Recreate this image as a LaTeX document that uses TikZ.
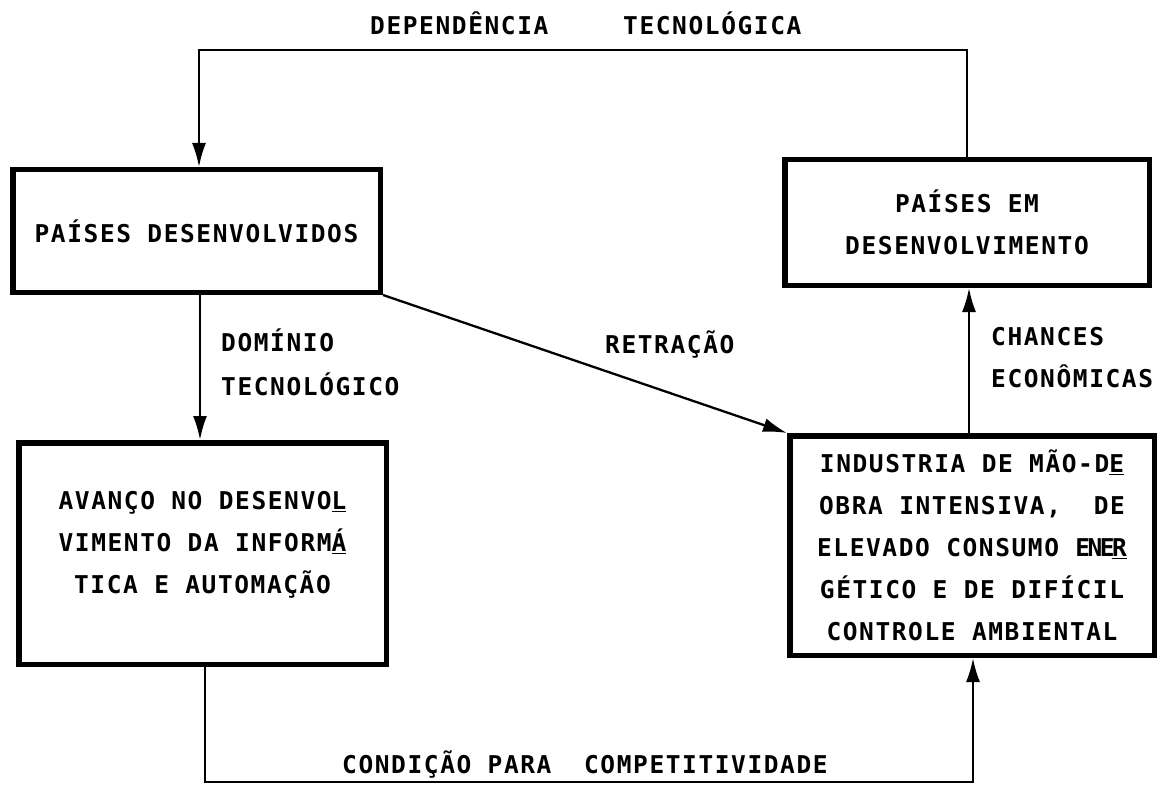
\documentclass[tikz,border=0pt]{standalone}
\usepackage{fontspec}
\newfontfamily\tw[LetterSpace=6.5]{DejaVu Sans Mono Bold}
\usetikzlibrary{arrows.meta}
\begin{document}
\begin{tikzpicture}[x=1pt,y=-1pt,
  txt/.style={font=\tw\fontsize{24.5}{42}\selectfont},
  box/.style={draw, line width=5.5pt, inner sep=0pt, align=center, txt},
  conn/.style={line width=2.3pt},
  arr/.style={conn, -{Latex[length=24pt,width=14pt]}},
  lbl/.style={txt, inner sep=0pt, anchor=base west}]
\useasboundingbox (0,0) rectangle (1161,786);
\fill[white] (0,0) rectangle (1161,786);

\node[box, minimum width=367.5pt, minimum height=122.5pt] (pd) at (196.5,231) {PAÍSES DESENVOLVIDOS};
\node[box, minimum width=364.5pt, minimum height=125.5pt] (ped) at (967,222.5) {PAÍSES EM\\DESENVOLVIMENTO};
\node[box, minimum width=364.5pt, minimum height=219.5pt] (ind) at (972,545.5)
  {INDUSTRIA DE MÃO-D\underline{E}\\OBRA INTENSIVA,\ \ DE\\ELEVADO CONSUMO E\kern-2.5pt N\kern-2.5pt E\kern-2.5pt \underline{R}\\GÉTICO E DE DIFÍCIL\\CONTROLE AMBIENTAL};
\node[box, minimum width=367.5pt, minimum height=221.5pt] (av) at (202.5,553.5)
  {AVANÇO NO DESENVO\underline{L}\\VIMENTO DA INFORM\underline{Á}\\TICA E AUTOMAÇÃO\\[-20pt]{}};

\coordinate (tl) at (199,50);
\coordinate (tr) at (967,50);
\coordinate (lx) at (200,0);
\coordinate (rx) at (969,0);
\coordinate (bl) at (205,782);
\coordinate (br) at (973,782);

\draw[arr] (ped.north -| tr) -- (tr) -- (tl) -- (pd.north -| tl);
\draw[arr] (pd.south -| lx) -- (av.north -| lx);
\draw[arr] (pd.south east) -- (ind.north west);
\draw[arr] (ind.north -| rx) -- (ped.south -| rx);
\draw[arr] (av.south -| bl) -- (bl) -- (br) -- (ind.south -| br);

\node[lbl] (dep) at (370,35) {DEPENDÊNCIA};
\node[lbl] (tec) at (623,35) {TECNOLÓGICA};
\node[lbl] (dom) at (221,351) {DOMÍNIO};
\node[lbl] (tco) at (221,395) {TECNOLÓGICO};
\node[lbl] (ret) at (605,353) {RETRAÇÃO};
\node[lbl] (cha) at (991,345) {CHANCES};
\node[lbl] (eco) at (991,387) {ECONÔMICAS};
\node[lbl] (cond) at (342,773) {CONDIÇÃO PARA\ \ COMPETITIVIDADE};
\end{tikzpicture}
\end{document}
